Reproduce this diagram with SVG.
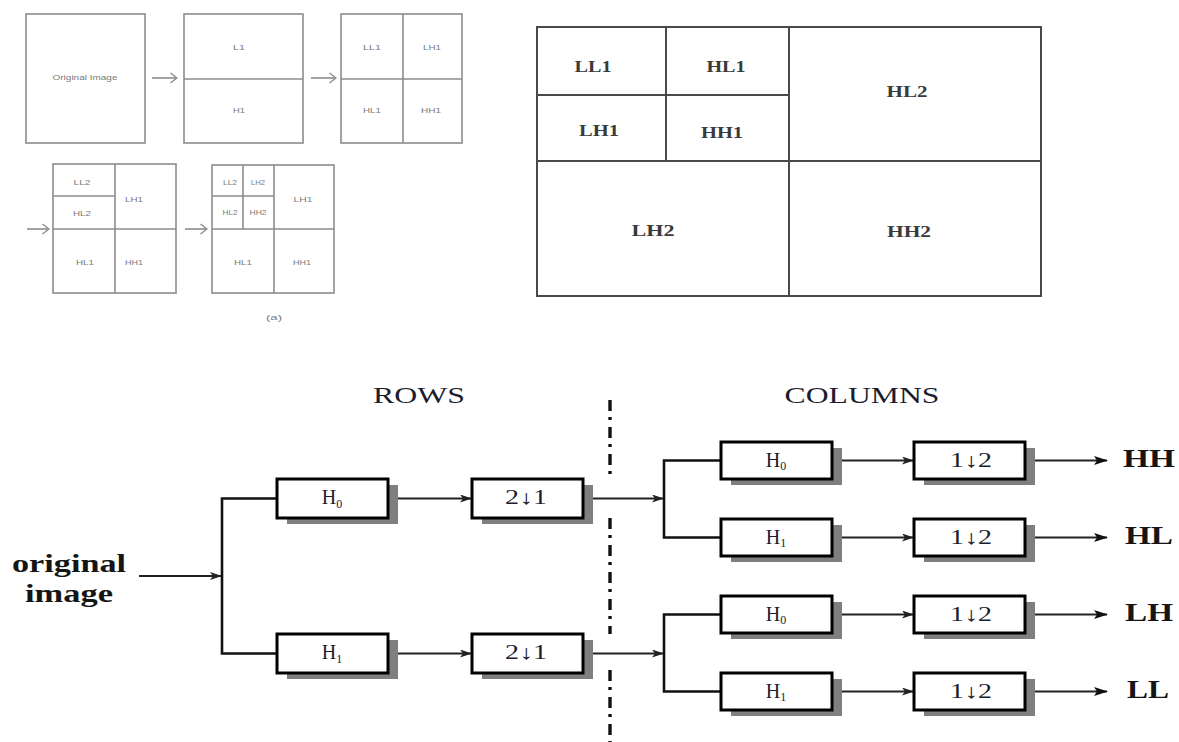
<svg xmlns="http://www.w3.org/2000/svg" width="1179" height="742" viewBox="0 0 1179 742">
<defs>
<style>
.sm{fill:none;stroke:#8c8c8c;stroke-width:1.6}
.smt{font-family:"Liberation Sans",Arial,sans-serif;font-size:8px;fill:#7a7a7a;text-anchor:middle}
.grid{fill:none;stroke:#4a4a4a;stroke-width:2}
.gt{font-family:"Liberation Serif","Times New Roman",serif;font-size:16px;font-weight:bold;fill:#3a3a3a;text-anchor:middle}
.box{fill:#fff;stroke:#000;stroke-width:3}
.shadow{fill:#7f7f7f}
.bt{font-family:"Liberation Serif","Times New Roman",serif;font-size:20px;fill:#1c1c2c;text-anchor:middle}
.wire{fill:none;stroke:#111;stroke-width:2.6}
.arr{fill:none;stroke:#222;stroke-width:1.8}
.lbl{font-family:"Liberation Serif","Times New Roman",serif;font-size:26px;font-weight:bold;fill:#151515}
.hdr{font-family:"Liberation Serif","Times New Roman",serif;font-size:24px;fill:#1c1c2c;text-anchor:middle}
.dd{fill:none;stroke:#111;stroke-width:3.4;stroke-dasharray:11 6 3 7}
</style>
<marker id="ah" viewBox="0 0 12 8" refX="11" refY="4" markerWidth="12" markerHeight="8" markerUnits="userSpaceOnUse" orient="auto"><path d="M0,0 L12,4 L0,8 L3,4 z" fill="#222"/></marker>
<marker id="ahb" viewBox="0 0 14 9" refX="13" refY="4.5" markerWidth="14" markerHeight="9" markerUnits="userSpaceOnUse" orient="auto"><path d="M0,0 L14,4.5 L0,9 L3,4.5 z" fill="#111"/></marker>
<marker id="chev" viewBox="0 0 8 12" refX="7.5" refY="6" markerWidth="8" markerHeight="12" markerUnits="userSpaceOnUse" orient="auto"><path d="M1,1 L7.5,6 L1,11" fill="none" stroke="#8c8c8c" stroke-width="1.4"/></marker>
</defs>
<rect width="1179" height="742" fill="#fff"/>

<!-- Top-left decomposition steps -->
<g id="step-original">
<rect class="sm" x="26" y="14" width="119" height="129"/>
<text class="smt" x="85" y="80" textLength="65" lengthAdjust="spacingAndGlyphs">Original Image</text>
</g>
<g id="step-level1-rows">
<rect class="sm" x="184" y="14" width="119" height="129"/>
<line class="sm" x1="184" y1="79" x2="303" y2="79"/>
<text class="smt" x="239" y="50" textLength="12" lengthAdjust="spacingAndGlyphs">L1</text>
<text class="smt" x="239" y="113" textLength="12" lengthAdjust="spacingAndGlyphs">H1</text>
</g>
<g id="step-level1">
<rect class="sm" x="341" y="14" width="121" height="129"/>
<line class="sm" x1="341" y1="79" x2="462" y2="79"/>
<line class="sm" x1="403" y1="14" x2="403" y2="143"/>
<text class="smt" x="372" y="50" textLength="18" lengthAdjust="spacingAndGlyphs">LL1</text>
<text class="smt" x="432" y="50" textLength="18" lengthAdjust="spacingAndGlyphs">LH1</text>
<text class="smt" x="372" y="113" textLength="18" lengthAdjust="spacingAndGlyphs">HL1</text>
<text class="smt" x="431" y="113" textLength="20" lengthAdjust="spacingAndGlyphs">HH1</text>
</g>
<g id="step-level2-rows">
<rect class="sm" x="53" y="164" width="123" height="129"/>
<line class="sm" x1="53" y1="229" x2="176" y2="229"/>
<line class="sm" x1="115" y1="164" x2="115" y2="293" stroke-width="2.2"/>
<line class="sm" x1="53" y1="196" x2="115" y2="196"/>
<text class="smt" x="82" y="185" textLength="17" lengthAdjust="spacingAndGlyphs">LL2</text>
<text class="smt" x="82" y="216" textLength="18" lengthAdjust="spacingAndGlyphs">HL2</text>
<text class="smt" x="134" y="202" textLength="18" lengthAdjust="spacingAndGlyphs">LH1</text>
<text class="smt" x="85" y="265" textLength="18" lengthAdjust="spacingAndGlyphs">HL1</text>
<text class="smt" x="134" y="265" textLength="18" lengthAdjust="spacingAndGlyphs">HH1</text>
</g>
<g id="step-level2">
<rect class="sm" x="212" y="165" width="122" height="128"/>
<line class="sm" x1="212" y1="229" x2="334" y2="229"/>
<line class="sm" x1="274" y1="165" x2="274" y2="293"/>
<line class="sm" x1="243" y1="165" x2="243" y2="229" stroke-width="1"/>
<line class="sm" x1="212" y1="196" x2="274" y2="196"/>
<text class="smt" x="230" y="185" textLength="14" lengthAdjust="spacingAndGlyphs">LL2</text>
<text class="smt" x="258" y="185" textLength="14" lengthAdjust="spacingAndGlyphs">LH2</text>
<text class="smt" x="230" y="215" textLength="15" lengthAdjust="spacingAndGlyphs">HL2</text>
<text class="smt" x="258" y="215" textLength="17" lengthAdjust="spacingAndGlyphs">HH2</text>
<text class="smt" x="303" y="202" textLength="19" lengthAdjust="spacingAndGlyphs">LH1</text>
<text class="smt" x="243" y="265" textLength="18" lengthAdjust="spacingAndGlyphs">HL1</text>
<text class="smt" x="302" y="265" textLength="18" lengthAdjust="spacingAndGlyphs">HH1</text>
<text class="smt" x="274" y="320" font-size="10" textLength="16" lengthAdjust="spacingAndGlyphs">(a)</text>
</g>
<g id="step-arrows">
<line class="sm" x1="152" y1="78" x2="177" y2="78" marker-end="url(#chev)"/>
<line class="sm" x1="311" y1="78" x2="336" y2="78" marker-end="url(#chev)"/>
<line class="sm" x1="27" y1="229" x2="49" y2="229" marker-end="url(#chev)"/>
<line class="sm" x1="185" y1="229" x2="207" y2="229" marker-end="url(#chev)"/>
</g>

<!-- Top-right two-level subband layout -->
<g id="subband-grid">
<rect class="grid" x="537" y="27" width="504" height="269"/>
<line class="grid" x1="537" y1="27" x2="537" y2="296" stroke-width="3"/>
<line class="grid" x1="1041" y1="27" x2="1041" y2="296" stroke-width="3"/>
<line class="grid" x1="789" y1="27" x2="789" y2="296" stroke-width="2.5"/>
<line class="grid" x1="537" y1="161" x2="1041" y2="161"/>
<line class="grid" x1="666" y1="27" x2="666" y2="161" stroke-width="2.5"/>
<line class="grid" x1="537" y1="95" x2="789" y2="95"/>
<text class="gt" x="593" y="72" textLength="37" lengthAdjust="spacingAndGlyphs">LL1</text>
<text class="gt" x="726" y="72" textLength="39" lengthAdjust="spacingAndGlyphs">HL1</text>
<text class="gt" x="599" y="136" textLength="40" lengthAdjust="spacingAndGlyphs">LH1</text>
<text class="gt" x="722" y="138" textLength="42" lengthAdjust="spacingAndGlyphs">HH1</text>
<text class="gt" x="907" y="97" textLength="41" lengthAdjust="spacingAndGlyphs">HL2</text>
<text class="gt" x="653" y="236" textLength="43" lengthAdjust="spacingAndGlyphs">LH2</text>
<text class="gt" x="909" y="237" textLength="44" lengthAdjust="spacingAndGlyphs">HH2</text>
</g>

<!-- Bottom filter bank -->
<g id="headers">
<text class="hdr" x="419" y="403" textLength="92" lengthAdjust="spacingAndGlyphs">ROWS</text>
<text class="hdr" x="862" y="403" textLength="155" lengthAdjust="spacingAndGlyphs">COLUMNS</text>
</g>
<g id="input-label">
<text class="lbl" x="69" y="572" text-anchor="middle" textLength="114" lengthAdjust="spacingAndGlyphs">original</text>
<text class="lbl" x="69" y="602" text-anchor="middle" textLength="88" lengthAdjust="spacingAndGlyphs">image</text>
</g>

<g id="connectors">
<line class="arr" x1="139" y1="576" x2="221" y2="576" marker-end="url(#ah)"/>
<path class="wire" d="M277,498.5 H222 V653.5 H277"/>
<line class="arr" x1="388" y1="498.5" x2="471" y2="498.5" marker-end="url(#ah)"/>
<line class="arr" x1="388" y1="653.5" x2="471" y2="653.5" marker-end="url(#ah)"/>
<line class="arr" x1="583" y1="498.5" x2="663" y2="498.5" marker-end="url(#ah)"/>
<line class="arr" x1="583" y1="653.5" x2="663" y2="653.5" marker-end="url(#ah)"/>
<path class="wire" d="M721,460.5 H664 V537.5 H721"/>
<path class="wire" d="M721,614.5 H664 V691.5 H721"/>
<line class="arr" x1="832" y1="460.5" x2="913" y2="460.5" marker-end="url(#ah)"/>
<line class="arr" x1="832" y1="537.5" x2="913" y2="537.5" marker-end="url(#ah)"/>
<line class="arr" x1="832" y1="614.5" x2="913" y2="614.5" marker-end="url(#ah)"/>
<line class="arr" x1="832" y1="691.5" x2="913" y2="691.5" marker-end="url(#ah)"/>
<line class="arr" x1="1025" y1="460.5" x2="1107" y2="460.5" stroke-width="2" marker-end="url(#ahb)"/>
<line class="arr" x1="1025" y1="537.5" x2="1107" y2="537.5" stroke-width="2" marker-end="url(#ahb)"/>
<line class="arr" x1="1025" y1="614.5" x2="1107" y2="614.5" stroke-width="2" marker-end="url(#ahb)"/>
<line class="arr" x1="1025" y1="691.5" x2="1107" y2="691.5" stroke-width="2" marker-end="url(#ahb)"/>
</g>

<g id="divider">
<line class="dd" x1="610" y1="400" x2="610" y2="474"/>
<line class="dd" x1="610" y1="518" x2="610" y2="634"/>
<line class="dd" x1="610" y1="670" x2="610" y2="742"/>
</g>

<g id="row-h0">
<rect class="shadow" x="287" y="485" width="111" height="39"/>
<rect class="box" x="277" y="479" width="111" height="39"/>
<text class="bt" x="332" y="504">H<tspan font-size="12" dy="4">0</tspan></text>
</g>
<g id="row-h1">
<rect class="shadow" x="287" y="640" width="111" height="39"/>
<rect class="box" x="277" y="634" width="111" height="39"/>
<text class="bt" x="332" y="659">H<tspan font-size="12" dy="4">1</tspan></text>
</g>
<g id="row-ds0">
<rect class="shadow" x="482" y="485" width="111" height="39"/>
<rect class="box" x="472" y="479" width="111" height="39"/>
<text class="bt" x="526" y="504" textLength="42" lengthAdjust="spacingAndGlyphs">2↓1</text>
</g>
<g id="row-ds1">
<rect class="shadow" x="482" y="640" width="111" height="39"/>
<rect class="box" x="472" y="634" width="111" height="39"/>
<text class="bt" x="526" y="659" textLength="42" lengthAdjust="spacingAndGlyphs">2↓1</text>
</g>

<g id="col-h0-a">
<rect class="shadow" x="731" y="448" width="111" height="37"/>
<rect class="box" x="721" y="442" width="111" height="37"/>
<text class="bt" x="776" y="467">H<tspan font-size="12" dy="3">0</tspan></text>
</g>
<g id="col-h1-a">
<rect class="shadow" x="731" y="525" width="111" height="37"/>
<rect class="box" x="721" y="519" width="111" height="37"/>
<text class="bt" x="776" y="544">H<tspan font-size="12" dy="3">1</tspan></text>
</g>
<g id="col-h0-b">
<rect class="shadow" x="731" y="602" width="111" height="37"/>
<rect class="box" x="721" y="596" width="111" height="37"/>
<text class="bt" x="776" y="621">H<tspan font-size="12" dy="3">0</tspan></text>
</g>
<g id="col-h1-b">
<rect class="shadow" x="731" y="679" width="111" height="37"/>
<rect class="box" x="721" y="673" width="111" height="37"/>
<text class="bt" x="776" y="698">H<tspan font-size="12" dy="3">1</tspan></text>
</g>
<g id="col-ds-hh">
<rect class="shadow" x="924" y="448" width="111" height="37"/>
<rect class="box" x="914" y="442" width="111" height="37"/>
<text class="bt" x="971" y="467" textLength="42" lengthAdjust="spacingAndGlyphs">1↓2</text>
</g>
<g id="col-ds-hl">
<rect class="shadow" x="924" y="525" width="111" height="37"/>
<rect class="box" x="914" y="519" width="111" height="37"/>
<text class="bt" x="971" y="544" textLength="42" lengthAdjust="spacingAndGlyphs">1↓2</text>
</g>
<g id="col-ds-lh">
<rect class="shadow" x="924" y="602" width="111" height="37"/>
<rect class="box" x="914" y="596" width="111" height="37"/>
<text class="bt" x="971" y="621" textLength="42" lengthAdjust="spacingAndGlyphs">1↓2</text>
</g>
<g id="col-ds-ll">
<rect class="shadow" x="924" y="679" width="111" height="37"/>
<rect class="box" x="914" y="673" width="111" height="37"/>
<text class="bt" x="971" y="698" textLength="42" lengthAdjust="spacingAndGlyphs">1↓2</text>
</g>

<g id="outputs">
<text class="lbl" x="1123" y="467" textLength="52" lengthAdjust="spacingAndGlyphs">HH</text>
<text class="lbl" x="1125" y="544" textLength="48" lengthAdjust="spacingAndGlyphs">HL</text>
<text class="lbl" x="1125" y="621" textLength="48" lengthAdjust="spacingAndGlyphs">LH</text>
<text class="lbl" x="1127" y="698" textLength="42" lengthAdjust="spacingAndGlyphs">LL</text>
</g>
</svg>
